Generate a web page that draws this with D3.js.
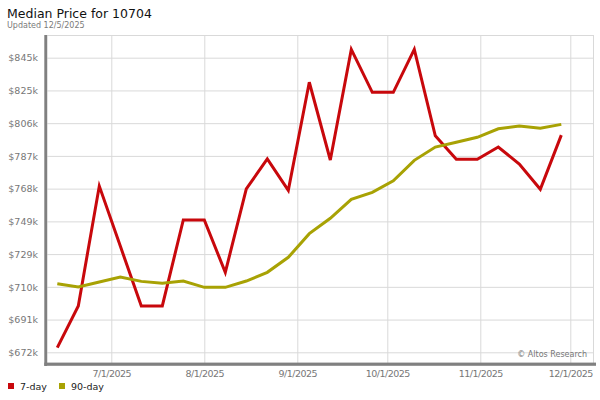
<!DOCTYPE html>
<html>
<head>
<meta charset="utf-8">
<script src="https://cdn.jsdelivr.net/npm/d3@7"></script>
<style>
    body { margin: 0; background: #fff; }
    text { font-family: "DejaVu Sans", sans-serif; }
</style>
</head>
<body>
<div id="chart-area"></div>
<script>
// weekly dates of the two series
const weeks = [
    "2025-06-13", "2025-06-20", "2025-06-27", "2025-07-04", "2025-07-11",
    "2025-07-18", "2025-07-25", "2025-08-01", "2025-08-08", "2025-08-15",
    "2025-08-22", "2025-08-29", "2025-09-05", "2025-09-12", "2025-09-19",
    "2025-09-26", "2025-10-03", "2025-10-10", "2025-10-17", "2025-10-24",
    "2025-10-31", "2025-11-07", "2025-11-14", "2025-11-21", "2025-11-28"
];

// median price, thousands of dollars
const sevenDay = [
    674.5, 699.0, 769.3, 734.1, 699.0, 699.0, 749.4, 749.4, 718.7, 767.6,
    785.2, 766.8, 830.2, 784.6, 849.5, 824.3, 824.3, 849.5, 798.8, 785.0,
    785.0, 792.2, 782.2, 767.4, 799.2
];
const ninetyDay = [
    712.0, 710.1, 713.0, 716.0, 713.4, 712.3, 713.6, 709.9, 709.9, 713.6,
    718.7, 727.5, 741.4, 750.4, 761.5, 765.6, 772.4, 784.4, 792.2, 795.0,
    797.9, 802.9, 804.5, 803.2, 805.5
];

const yTickValues = [671.8, 691.0, 710.2, 729.4, 748.6, 767.8, 787.0, 806.2, 825.4, 844.6];
const yTickLabels = ["$672k", "$691k", "$710k", "$729k", "$749k", "$768k", "$787k", "$806k", "$825k", "$845k"];

const xTickDates = ["2025-07-01", "2025-08-01", "2025-09-01", "2025-10-01", "2025-11-01", "2025-12-01"];
const xTickLabels = ["7/1/2025", "8/1/2025", "9/1/2025", "10/1/2025", "11/1/2025", "12/1/2025"];

const seriesNames = ["7-day", "90-day"];
const seriesColors = ["#c8080c", "#a8a204"];

const plot = { left: 47, right: 593.5, top: 35, bottom: 363 };

const parseDate = d3.utcParse("%Y-%m-%d");

const main = function () {
    const svg = d3.select("#chart-area")
        .append("svg")
        .attr("width", 600)
        .attr("height", 400);

    svg.append("rect")
        .attr("width", 600).attr("height", 400).attr("fill", "#fff");

    // titles
    svg.append("text")
        .attr("x", 7).attr("y", 18)
        .attr("font-size", 12.5)
        .attr("fill", "#111")
        .text("Median Price for 10704");
    svg.append("text")
        .attr("x", 7).attr("y", 27.5)
        .attr("font-size", 8)
        .attr("fill", "#7a7a7a")
        .text("Updated 12/5/2025");

    const x = d3.scaleUtc()
        .domain([parseDate("2025-07-01"), parseDate("2025-12-01")])
        .range([111.3, 570.3]);

    const y = d3.scaleLinear()
        .domain([yTickValues[0], yTickValues[yTickValues.length - 1]])
        .range([352.3, 57.7]);

    // plot frame
    svg.append("rect")
        .attr("x", plot.left).attr("y", plot.top + 0.5)
        .attr("width", plot.right - plot.left)
        .attr("height", plot.bottom - plot.top)
        .attr("fill", "none")
        .attr("stroke", "#d9d9d9");

    // y axis + horizontal grid
    const yAxis = d3.axisLeft(y)
        .tickValues(yTickValues)
        .tickFormat((d, i) => yTickLabels[i])
        .tickSize(-(plot.right - plot.left));
    const gy = svg.append("g")
        .attr("transform", `translate(${plot.left}, 0)`)
        .call(yAxis);
    gy.select(".domain").remove();
    gy.selectAll(".tick line").attr("stroke", "#d9d9d9");
    gy.selectAll(".tick text")
        .attr("x", -9)
        .attr("dy", "0.34em")
        .attr("font-size", 9.5)
        .attr("font-family", "DejaVu Sans")
        .attr("fill", "#777");

    // x axis + vertical grid
    const xAxis = d3.axisBottom(x)
        .tickValues(xTickDates.map(parseDate))
        .tickFormat((d, i) => xTickLabels[i])
        .tickSize(-(plot.bottom - plot.top));
    const gx = svg.append("g")
        .attr("transform", `translate(0, ${plot.bottom})`)
        .call(xAxis);
    gx.select(".domain").remove();
    gx.selectAll(".tick line").attr("stroke", "#d9d9d9");
    gx.selectAll(".tick text")
        .attr("y", 13.5)
        .attr("dy", 0)
        .attr("font-size", 9.5)
        .attr("letter-spacing", -0.5)
        .attr("font-family", "DejaVu Sans")
        .attr("fill", "#777");

    // watermark
    svg.append("text")
        .attr("x", 587).attr("y", 356.5)
        .attr("text-anchor", "end")
        .attr("font-size", 8)
        .attr("fill", "#777")
        .text("\u00a9 Altos Research");

    // thick axis bars
    svg.append("rect")
        .attr("x", 44.3).attr("y", plot.top)
        .attr("width", 2.8).attr("height", 366 - plot.top)
        .attr("fill", "#808080");
    svg.append("rect")
        .attr("x", 44.3).attr("y", 362.6)
        .attr("width", 596 - 44.3).attr("height", 3.2)
        .attr("fill", "#808080");

    // lines
    const dates = weeks.map(parseDate);
    const line = d3.line()
        .x((d, i) => x(dates[i]))
        .y(d => y(d));

    [sevenDay, ninetyDay].forEach((values, k) => {
        svg.append("path")
            .attr("d", line(values))
            .attr("fill", "none")
            .attr("stroke", seriesColors[k])
            .attr("stroke-width", 3)
            .attr("stroke-linejoin", "miter");
    });

    // legend
    const legendX = [8, 59];
    seriesNames.forEach((name, k) => {
        svg.append("rect")
            .attr("x", legendX[k]).attr("y", 383)
            .attr("width", 6).attr("height", 6)
            .attr("fill", seriesColors[k]);
        svg.append("text")
            .attr("x", legendX[k] + 12).attr("y", 390)
            .attr("font-size", 9.5)
            .attr("fill", "#222")
            .text(name);
    });
}

window.onload = main;
</script>
</body>
</html>
